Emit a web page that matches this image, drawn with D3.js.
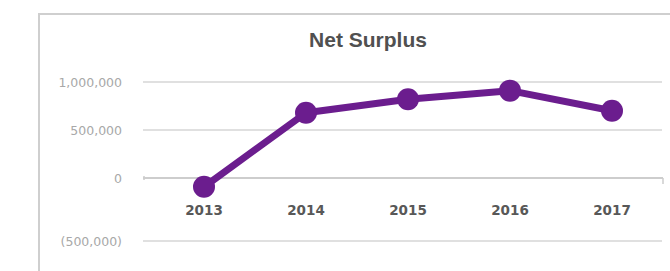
<!DOCTYPE html>
<html>
<head>
<meta charset="utf-8">
<script src="https://cdn.jsdelivr.net/npm/d3@7"></script>
<style>
body { margin: 0; background: #fff; }
svg { display: block; }
</style>
</head>
<body>
<svg width="670" height="271"></svg>
<script>
var years = ["2013", "2014", "2015", "2016", "2017"];
var surplus = [-70000, 680000, 820000, 910000, 700000];
var yTicks = [-500000, 0, 500000, 1000000];

function fmt(v) {
	var s = d3.format(",")(Math.abs(v));
	return v < 0 ? "(" + s + ")" : s;
}

function main() {
	var svg = d3.select("svg");

	// frame
	svg.append("path")
		.attr("d", "M39,271 V14 H670")
		.attr("fill", "none")
		.attr("stroke", "#cfcfcf")
		.attr("stroke-width", 2);

	svg.append("text")
		.attr("x", 368)
		.attr("y", 47)
		.attr("text-anchor", "middle")
		.style("font-family", "Liberation Sans, Arial, sans-serif")
		.style("font-weight", "bold")
		.style("font-size", "21px")
		.attr("fill", "#505050")
		.text("Net Surplus");

	var xScale = d3.scaleBand().domain(years).range([153, 663]);
	// the picture stretches the negative part to make room for the year labels
	var yScale = d3.scaleLinear().domain([-500000, 0, 1000000]).range([241, 178, 82]);

	var grid = svg.append("g");
	grid.selectAll("line")
		.data(yTicks)
		.enter().append("line")
		.attr("x1", 143)
		.attr("x2", function(d) { return d == 0 ? 663 : 662; })
		.attr("y1", function(d) { return yScale(d); })
		.attr("y2", function(d) { return yScale(d); })
		.attr("stroke", function(d) { return d == 0 ? "#cdcdcd" : "#e0e0e0"; })
		.attr("stroke-width", 2);

	// small end ticks on the zero line
	svg.append("line")
		.attr("x1", 663).attr("x2", 663)
		.attr("y1", yScale(0)).attr("y2", yScale(0) + 6)
		.attr("stroke", "#cdcdcd").attr("stroke-width", 1.5);
	svg.append("line")
		.attr("x1", 144).attr("x2", 144)
		.attr("y1", yScale(0) - 2).attr("y2", yScale(0) + 2)
		.attr("stroke", "#cdcdcd").attr("stroke-width", 1.5);

	svg.append("g").selectAll("text")
		.data(yTicks)
		.enter().append("text")
		.attr("x", 122)
		.attr("y", function(d) { return yScale(d); })
		.attr("dy", "0.36em")
		.attr("text-anchor", "end")
		.style("font-family", "DejaVu Sans, sans-serif")
		.style("font-size", "12.5px")
		.attr("fill", "#a8a8a8")
		.text(fmt);

	svg.append("g").selectAll("text")
		.data(years)
		.enter().append("text")
		.attr("x", function(d) { return xScale(d) + xScale.bandwidth() / 2; })
		.attr("y", 215)
		.attr("text-anchor", "middle")
		.style("font-family", "DejaVu Sans, sans-serif")
		.style("font-weight", "bold")
		.style("font-size", "13.5px")
		.attr("fill", "#585858")
		.text(function(d) { return d; });

	var line = d3.line()
		.x(function(d, i) { return xScale(years[i]) + xScale.bandwidth() / 2; })
		.y(function(d) { return yScale(d); });

	svg.append("path")
		.datum(surplus)
		.attr("d", line)
		.attr("fill", "none")
		.attr("stroke", "#6b1d8e")
		.attr("stroke-width", 7)
		.attr("stroke-linejoin", "round");

	svg.append("g").selectAll("circle")
		.data(surplus)
		.enter().append("circle")
		.attr("cx", function(d, i) { return xScale(years[i]) + xScale.bandwidth() / 2; })
		.attr("cy", function(d) { return yScale(d); })
		.attr("r", 11)
		.attr("fill", "#6b1d8e");
}
main();
</script>
</body>
</html>
